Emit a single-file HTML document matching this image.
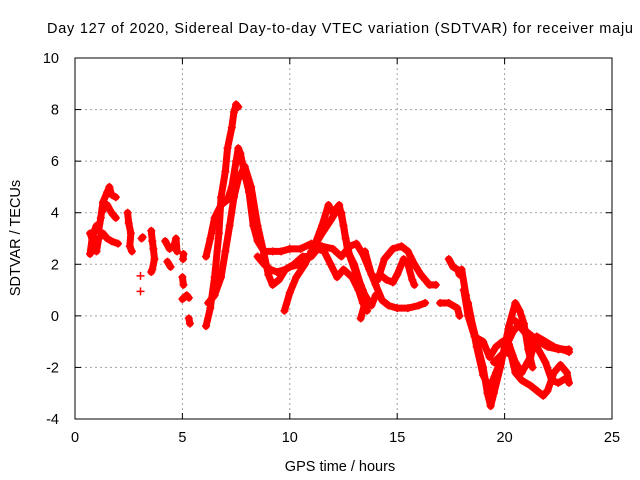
<!DOCTYPE html>
<html><head><meta charset="utf-8"><style>
body{margin:0;background:#fff;}
svg{display:block;font-family:"Liberation Sans",sans-serif;}
</style></head><body>
<svg id="chart" width="640" height="480" viewBox="0 0 640 480">
<text x="47" y="33" font-size="14.5" fill="#000" textLength="586" lengthAdjust="spacing">Day 127 of 2020, Sidereal Day-to-day VTEC variation (SDTVAR) for receiver maju</text>
<text transform="translate(20,238) rotate(-90)" text-anchor="middle" font-size="14.5">SDTVAR / TECUs</text>
<text x="340" y="471" text-anchor="middle" font-size="14.5">GPS time / hours</text>
<g id="grid"></g><g id="ticks"></g><g id="marks"></g>
<rect x="75" y="58" width="537" height="361" fill="none" stroke="#000" stroke-width="1"/>
</svg>
<script>
const xTicks=[0,5,10,15,20,25];
const yTicks=[-4,-2,0,2,4,6,8,10];
const seriesEarlyA=[[0.7,2.4],[0.8,3.0],[0.9,3.3],[1.0,3.5],[1.1,3.3],[1.2,3.8],[1.3,4.4],[1.5,4.8],[1.6,5.0],[1.7,4.7],[1.9,4.6]];
const seriesEarlyB=[[0.7,3.2],[0.9,2.8],[1.0,2.5],[1.1,3.0],[1.3,3.2],[1.5,3.0],[1.7,2.9],[2.0,2.8]];
const seriesEarlyC=[[1.3,4.1],[1.5,4.3],[1.7,4.0],[1.9,3.8]];
const series25=[[2.45,4.0],[2.5,3.6],[2.6,3.2],[2.55,2.7],[2.65,2.5]];
const series31=[[3.1,3.0],[3.15,3.05]];
const series31b=[[3.05,1.55]];
const series31c=[[3.05,0.95]];
const series36=[[3.55,3.3],[3.6,2.9],[3.65,2.6],[3.7,2.2],[3.6,1.8],[3.55,1.7]];
const series44=[[4.2,2.9],[4.4,2.6],[4.6,2.7],[4.7,3.0],[4.75,2.5]];
const series44b=[[4.3,2.1],[4.45,1.9]];
const series50=[[5.05,2.4],[5.03,2.2]];
const series50b=[[5.0,1.5],[5.05,1.2]];
const series50c=[[5.0,0.65],[5.2,0.8],[5.3,0.7]];
const series53=[[5.3,-0.1],[5.35,-0.3]];
const seriesM1=[[6.1,-0.4],[6.3,0.3],[6.5,1.5],[6.7,3.2],[6.8,4.6],[7.0,5.6],[7.1,6.5],[7.3,7.3],[7.4,7.9],[7.5,8.2],[7.6,8.1]];
const seriesM2=[[6.1,2.3],[6.3,3.0],[6.5,3.8],[6.8,4.3],[7.1,4.5],[7.3,5.0],[7.5,6.0],[7.6,6.5],[7.7,6.3],[7.9,5.5],[8.1,4.8],[8.3,3.5],[8.5,2.9],[8.8,2.5],[9.2,2.5],[9.6,2.5],[10.0,2.6],[10.5,2.6],[11.0,2.8],[11.5,2.7],[12.0,2.6],[12.4,2.3],[12.8,2.7],[13.1,2.8],[13.4,2.4],[13.7,1.8],[14.0,1.2],[14.3,0.6],[14.6,0.4],[15.0,0.3],[15.5,0.3],[16.0,0.4],[16.3,0.5]];
const seriesM3=[[6.2,0.5],[6.5,0.8],[6.8,1.5],[7.0,2.5],[7.2,3.5],[7.4,4.6],[7.6,5.3],[7.9,5.8],[8.2,5.0],[8.5,3.5],[8.8,2.4],[9.0,1.6],[9.2,1.2],[9.5,1.4],[9.8,1.8],[10.2,2.0],[10.6,2.3],[11.0,2.3],[11.3,2.6],[11.6,2.5],[11.9,2.0],[12.2,1.5],[12.5,1.8],[12.9,1.5],[13.2,1.0],[13.4,0.5],[13.6,0.2]];
const seriesM4=[[8.5,2.3],[8.8,2.0],[9.1,1.8],[9.4,1.7],[9.8,1.8],[10.0,1.9],[10.5,2.0],[11.0,2.4],[11.5,3.5],[11.8,4.3],[12.0,4.0],[12.3,4.3],[12.5,3.5],[12.7,2.5],[13.0,2.0],[13.3,1.2],[13.5,0.8],[13.8,0.4],[14.0,0.8]];
const seriesM5=[[9.75,0.2],[10.0,0.9],[10.3,1.5],[10.7,2.0],[11.0,2.5],[11.5,3.2],[11.9,3.7],[12.2,4.1],[12.4,4.0],[12.6,3.0],[12.8,2.3],[13.1,1.6],[13.4,1.0],[13.5,0.5],[13.3,-0.1]];
const seriesM6=[[13.5,2.5],[13.8,1.6],[14.1,1.4],[14.4,2.2],[14.8,2.6],[15.2,2.7],[15.5,2.5],[15.8,2.0],[16.1,1.6],[16.5,1.2],[16.8,1.2]];
const seriesM7=[[14.2,1.6],[14.5,1.4],[14.8,1.3],[15.0,1.6],[15.3,2.2],[15.5,2.0],[15.7,1.4],[15.8,1.2]];
const seriesLateA=[[17.4,2.2],[17.6,1.9],[17.8,1.8],[17.9,1.6]];
const seriesLateB=[[17.0,0.5],[17.4,0.5],[17.8,0.3],[17.9,0.0]];
const seriesL1=[[18.0,1.8],[18.2,0.8],[18.4,0.0],[18.7,-1.0],[19.0,-2.0],[19.2,-3.0],[19.35,-3.5],[19.5,-3.0],[19.8,-2.0],[20.0,-1.2],[20.2,-0.4],[20.5,0.5],[20.7,0.2],[20.9,-0.3],[21.1,-1.3],[21.3,-2.0]];
const seriesL2=[[18.1,1.0],[18.3,0.0],[18.6,-0.8],[19.0,-1.0],[19.3,-1.6],[19.6,-1.2],[19.9,-1.0],[20.2,-1.1],[20.5,-1.8],[20.8,-2.2],[21.2,-1.6],[21.5,-0.8],[21.9,-1.0],[22.3,-1.2],[22.7,-1.3],[23.0,-1.4]];
const seriesL3=[[18.3,0.5],[18.7,-1.2],[19.0,-2.3],[19.3,-2.8],[19.6,-2.2],[20.0,-1.3],[20.4,-0.6],[20.7,-0.3],[21.0,-0.6],[21.3,-0.8],[21.6,-1.0],[22.0,-1.2],[22.5,-1.3],[23.0,-1.3]];
const seriesL4=[[19.5,-1.8],[20.0,-1.4],[20.3,-1.5],[20.5,-2.2],[20.8,-2.5],[21.2,-2.7],[21.5,-2.9],[21.8,-3.1],[22.0,-2.9],[22.3,-2.2],[22.6,-1.9],[22.9,-2.2],[23.0,-2.6]];
const seriesL5=[[20.5,-0.2],[20.9,-0.6],[21.2,-0.9],[21.5,-1.2],[21.9,-1.8],[22.2,-2.5],[22.5,-2.6],[22.9,-2.4]];
const allSeries=[seriesEarlyA,seriesEarlyB,seriesEarlyC,series25,series31,series31b,series31c,series36,series44,series44b,series50,series50b,series50c,series53,seriesM1,seriesM2,seriesM3,seriesM4,seriesM5,seriesM6,seriesM7,seriesLateA,seriesLateB,seriesL1,seriesL2,seriesL3,seriesL4,seriesL5];

const NS='http://www.w3.org/2000/svg';
const X0=75,X1=612,Y0=419,Y1=58;
function xs(v){return X0+(v-0)/(25-0)*(X1-X0);}
function ys(v){return Y0-(v-(-4))/(10-(-4))*(Y0-Y1);}
function mk(tag,attrs,parent){const e=document.createElementNS(NS,tag);for(const k in attrs)e.setAttribute(k,attrs[k]);parent.appendChild(e);return e;}
const grid=document.getElementById('grid'),ticks=document.getElementById('ticks'),marks=document.getElementById('marks');
xTicks.forEach(t=>{
  const x=xs(t);
  if(t>0&&t<25){const g=mk('line',{x1:x,x2:x,y1:Y1,y2:Y0,stroke:'#a0a0a0','stroke-dasharray':'2,3'},grid);
  
  }
  mk('line',{x1:x,x2:x,y1:Y0,y2:Y0-6,stroke:'#000'},ticks);
  mk('line',{x1:x,x2:x,y1:Y1,y2:Y1+6,stroke:'#000'},ticks);
  const l=mk('text',{x:x,y:442,'text-anchor':'middle','font-size':'14.5'},ticks);
  l.textContent=t;
  
  
});
yTicks.forEach(t=>{
  const y=ys(t);
  if(t>-4&&t<10){const g=mk('line',{x1:X0,x2:X1,y1:y,y2:y,stroke:'#a0a0a0','stroke-dasharray':'2,3'},grid);
  
  }
  mk('line',{x1:X0,x2:X0+6,y1:y,y2:y,stroke:'#000'},ticks);
  mk('line',{x1:X1,x2:X1-6,y1:y,y2:y,stroke:'#000'},ticks);
  const l=mk('text',{x:59,y:y+5,'text-anchor':'end','font-size':'14.5'},ticks);
  l.textContent=t;
  
  
});
allSeries.forEach(s=>{
  const g=mk('g',{},marks);
  
  
  if(s.length>1){
    mk('polyline',{points:s.map(p=>xs(p[0])+','+ys(p[1])).join(' '),fill:'none',stroke:'#ff0000','stroke-width':7,'stroke-linejoin':'round','stroke-linecap':'round'},g);
  }
  s.forEach(p=>{
    const x=xs(p[0]),y=ys(p[1]);
    const m=mk('path',{d:`M${x-4},${y}H${x+4}M${x},${y-4}V${y+4}`,stroke:'#ff0000','stroke-width':1.5},g);
    
    
  });
});
</script>
</body></html>
